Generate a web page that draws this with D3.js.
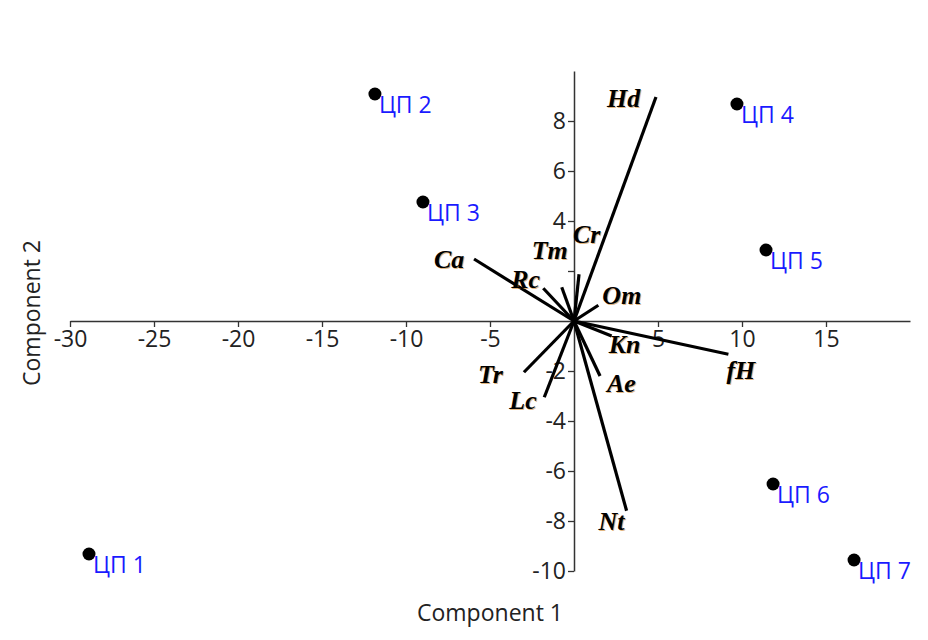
<!DOCTYPE html>
<html>
<head>
<meta charset="utf-8">
<script src="https://cdn.jsdelivr.net/npm/d3@7"></script>
<style>
  html, body { margin: 0; padding: 0; background: #fff; }
  svg { display: block; }
</style>
</head>
<body>
<svg id="chart" width="928" height="640"></svg>
<script>
// ---- data ----
const pointNames = ["ЦП 1", "ЦП 2", "ЦП 3", "ЦП 4", "ЦП 5", "ЦП 6", "ЦП 7"];
const pointX = [-28.87, -11.85, -8.99, 9.70, 11.43, 11.85, 16.67];
const pointY = [-9.32, 9.08, 4.76, 8.68, 2.84, -6.52, -9.56];

const vectorNames = ["Hd", "Ca", "Rc", "Tm", "Cr", "Om", "Kn", "fH", "Ae", "Nt", "Tr", "Lc"];
const vectorX = [4.88, -5.95, -1.83, -0.73, 0.30, 1.45, 2.24, 9.19, 1.55, 3.13, -2.98, -1.77];
const vectorY = [8.96, 2.48, 1.31, 1.35, 1.87, 0.63, -0.60, -1.33, -2.20, -7.59, -2.05, -3.05];

const xTicks = [-30, -25, -20, -15, -10, -5, 0, 5, 10, 15];
const yTicks = [-10, -8, -6, -4, -2, 0, 2, 4, 6, 8];
const xTitle = "Component 1";
const yTitle = "Component 2";

// ---- layout (label offsets in px, not data) ----
const vecLabelOffset = {
  Hd: [-49, 10], Ca: [-40, 9], Rc: [-32, 0], Tm: [-30, -28], Cr: [-6, -31], Om: [4, -1],
  Kn: [-3, 17], fH: [-2, 25], Ae: [7, 16], Nt: [-28, 19], Tr: [-46, 11], Lc: [-35, 12]
};
const hiddenYLabels = [0, 2];
const hiddenXLabels = [0];

const svg = d3.select("#chart");
const x = d3.scaleLinear().domain([-30, 20]).range([70, 910]);
const y = d3.scaleLinear().domain([-10, 10]).range([571, 71]);

const axisColor = "#333";
const fontSans = "'Open Sans', 'Noto Sans', sans-serif";

// x axis at y=0
const gx = svg.append("g").attr("transform", `translate(0,${y(0)})`)
  .call(d3.axisBottom(x).tickValues(xTicks).tickSize(6).tickSizeOuter(0).tickPadding(4)
    .tickFormat(d => hiddenXLabels.includes(d) ? "" : String(d)));
gx.select(".domain").attr("stroke", axisColor).attr("stroke-width", 1.5);
gx.selectAll(".tick line").attr("stroke", axisColor).attr("stroke-width", 1.3);
gx.selectAll(".tick text").attr("fill", "#222").style("font-family", fontSans).style("font-size", "23px");

// y axis at x=0
const gy = svg.append("g").attr("transform", `translate(${x(0)},0)`)
  .call(d3.axisLeft(y).tickValues(yTicks).tickSize(6).tickSizeOuter(0).tickPadding(2)
    .tickFormat(d => hiddenYLabels.includes(d) ? "" : String(d)));
gy.select(".domain").attr("stroke", axisColor).attr("stroke-width", 1.5);
gy.selectAll(".tick line").attr("stroke", axisColor).attr("stroke-width", 1.3);
gy.selectAll(".tick text").attr("fill", "#222").style("font-family", fontSans).style("font-size", "23px");
gx.selectAll(".tick").filter(d => d === 0).select("line").remove();
gy.selectAll(".tick").filter(d => d === 0).select("line").remove();

// axis titles
svg.append("text").attr("x", 490).attr("y", 621).attr("text-anchor", "middle")
  .style("font-family", fontSans).style("font-size", "23px").attr("fill", "#222").text(xTitle);
svg.append("text").attr("transform", "translate(40,313) rotate(-90)").attr("text-anchor", "middle")
  .style("font-family", fontSans).style("font-size", "23px").attr("fill", "#222").text(yTitle);

// vectors
const vecs = vectorNames.map((n, i) => ({ name: n, vx: vectorX[i], vy: vectorY[i] }));
svg.append("g").selectAll("line").data(vecs).join("line")
  .attr("x1", x(0)).attr("y1", y(0))
  .attr("x2", d => x(d.vx)).attr("y2", d => y(d.vy))
  .attr("stroke", "#000").attr("stroke-width", 3.2);

svg.append("g").selectAll("text").data(vecs).join("text")
  .attr("x", d => x(d.vx) + vecLabelOffset[d.name][0])
  .attr("y", d => y(d.vy) + vecLabelOffset[d.name][1])
  .style("font-family", "'Liberation Serif', 'Times New Roman', serif")
  .style("font-weight", "bold").style("font-style", "italic").style("font-size", "26px")
  .attr("fill", "#000")
  .style("text-shadow", "1px 1px 0 rgba(200,120,20,0.55)")
  .text(d => d.name);

// points
const pts = pointNames.map((n, i) => ({ name: n, px: pointX[i], py: pointY[i] }));
svg.append("g").selectAll("circle").data(pts).join("circle")
  .attr("cx", d => x(d.px)).attr("cy", d => y(d.py)).attr("r", 6.5).attr("fill", "#000");
svg.append("g").selectAll("text").data(pts).join("text")
  .attr("x", d => x(d.px) + 4).attr("y", d => y(d.py) + 19)
  .style("font-family", fontSans).style("font-size", "23px").attr("fill", "#1a1aff")
  .text(d => d.name);
</script>
</body>
</html>
